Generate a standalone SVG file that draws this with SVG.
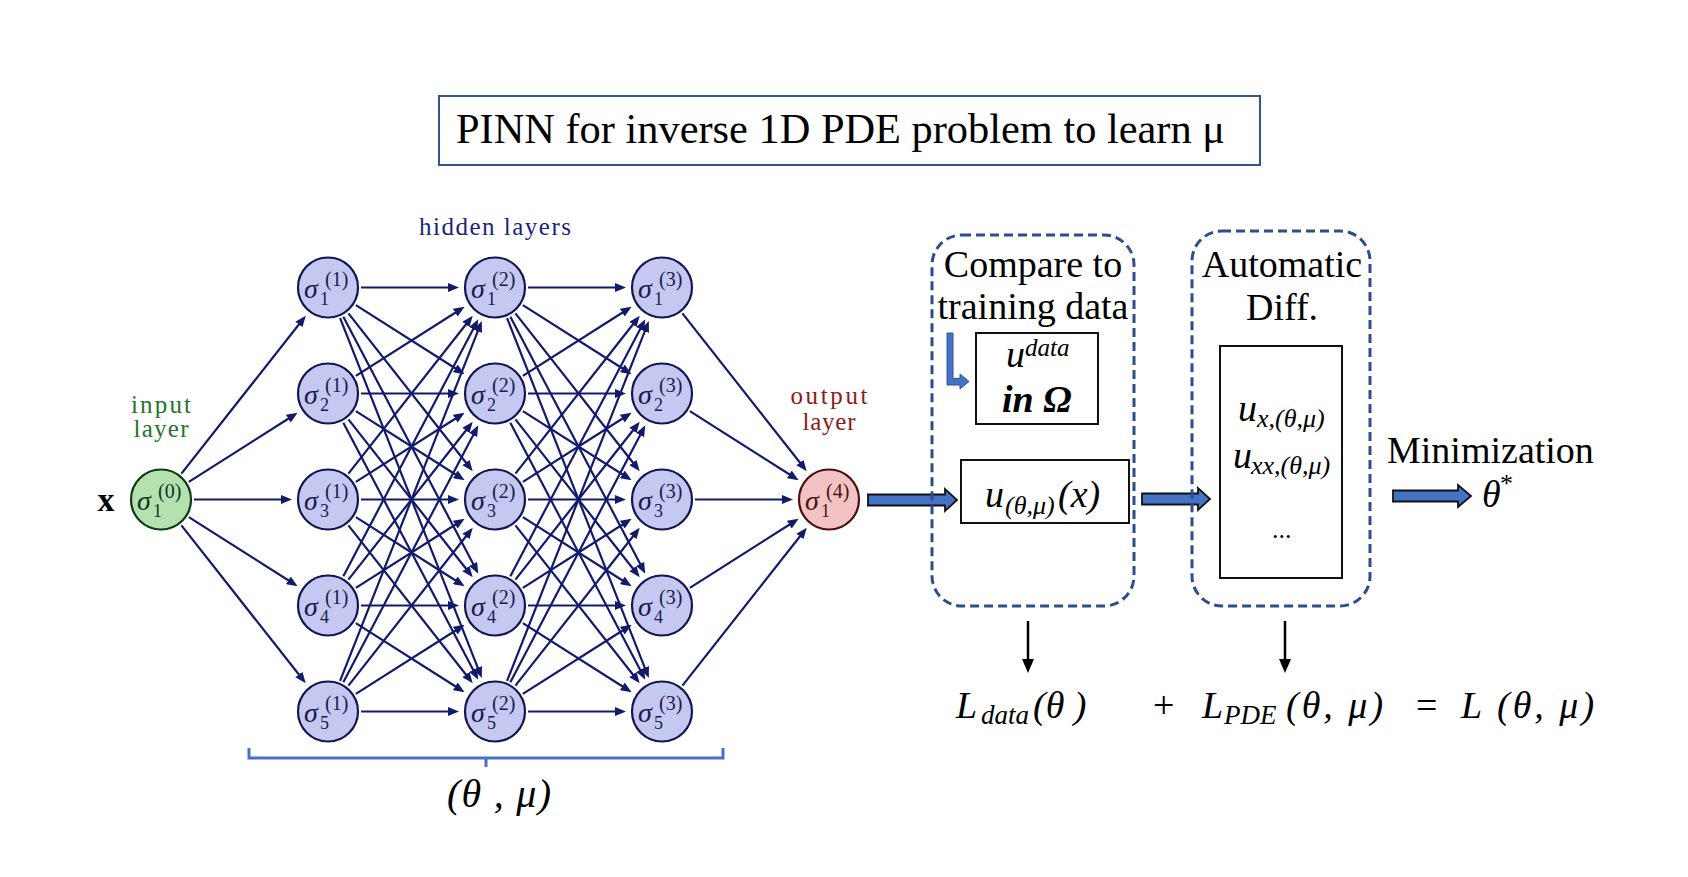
<svg xmlns="http://www.w3.org/2000/svg" width="1688" height="877" viewBox="0 0 1688 877">
<style>
.e{stroke:#111a6b;stroke-width:2.2;fill:none;marker-end:url(#ah)}
.nh circle{fill:#c5c8f1;stroke:#121552;stroke-width:2.2}
.ni circle{fill:#b5e1b1;stroke:#0f3a10;stroke-width:2.2}
.no circle{fill:#f3c3c3;stroke:#4a0f0f;stroke-width:2.2}
.sg{font-family:"Liberation Serif",serif;font-style:italic;font-size:28px}
.sb{font-style:normal;font-size:18px}
.sp{font-style:normal;font-size:20px}
.nh text{fill:#1a1a4e}.ni text{fill:#10381a}.no text{fill:#4a1212}
.lab{font-family:"Liberation Serif",serif;font-size:25px}
.t38{font-family:"Liberation Serif",serif;font-size:38px;fill:#000}
.it{font-family:"Liberation Serif",serif;font-style:italic;fill:#000}
.blk{fill:#4472c4;stroke:#111;stroke-width:1.8;stroke-linejoin:miter}
.box{fill:#fff;stroke:#111;stroke-width:2}
.dash{fill:none;stroke:#2e4d8e;stroke-width:3;stroke-dasharray:9 5}
</style>
<defs>
<marker id="ah" viewBox="0 0 11 9" refX="5" refY="4.5" markerWidth="11" markerHeight="9" markerUnits="userSpaceOnUse" orient="auto">
<path d="M0,0 L11,4.5 L0,9 z" fill="#111a6b"/>
</marker>
</defs>
<rect width="1688" height="877" fill="#fff"/>

<g id="title">
<rect x="439" y="96" width="821" height="69" fill="#fff" stroke="#2f5597" stroke-width="2"/>
<text x="456" y="143" font-family="Liberation Serif, serif" font-size="42" textLength="769" lengthAdjust="spacingAndGlyphs">PINN for inverse 1D PDE problem to learn μ</text>
</g>

<g id="connectors">
<g transform="translate(161,499.5)">
<line class="e" x1="20.42" y1="-25.92" x2="141.01" y2="-179.01"/>
<line class="e" x1="27.86" y1="-17.68" x2="131.54" y2="-83.49"/>
<line class="e" x1="33" y1="0" x2="125" y2="0"/>
<line class="e" x1="27.86" y1="17.68" x2="131.54" y2="83.49"/>
<line class="e" x1="20.42" y1="25.92" x2="141.01" y2="179.01"/>
</g>
<g transform="translate(328,287.5)">
<line class="e" x1="33" y1="0" x2="125" y2="0"/>
<line class="e" x1="27.86" y1="17.68" x2="131.54" y2="83.49"/>
<line class="e" x1="20.42" y1="25.92" x2="141.01" y2="179.01"/>
<line class="e" x1="15.34" y1="29.22" x2="147.47" y2="280.82"/>
<line class="e" x1="12.09" y1="30.70" x2="151.61" y2="384.92"/>
</g>
<g transform="translate(328,393.5)">
<line class="e" x1="27.86" y1="-17.68" x2="131.54" y2="-83.49"/>
<line class="e" x1="33" y1="0" x2="125" y2="0"/>
<line class="e" x1="27.86" y1="17.68" x2="131.54" y2="83.49"/>
<line class="e" x1="20.42" y1="25.92" x2="141.01" y2="179.01"/>
<line class="e" x1="15.34" y1="29.22" x2="147.47" y2="280.82"/>
</g>
<g transform="translate(328,499.5)">
<line class="e" x1="20.42" y1="-25.92" x2="141.01" y2="-179.01"/>
<line class="e" x1="27.86" y1="-17.68" x2="131.54" y2="-83.49"/>
<line class="e" x1="33" y1="0" x2="125" y2="0"/>
<line class="e" x1="27.86" y1="17.68" x2="131.54" y2="83.49"/>
<line class="e" x1="20.42" y1="25.92" x2="141.01" y2="179.01"/>
</g>
<g transform="translate(328,605.5)">
<line class="e" x1="15.34" y1="-29.22" x2="147.47" y2="-280.82"/>
<line class="e" x1="20.42" y1="-25.92" x2="141.01" y2="-179.01"/>
<line class="e" x1="27.86" y1="-17.68" x2="131.54" y2="-83.49"/>
<line class="e" x1="33" y1="0" x2="125" y2="0"/>
<line class="e" x1="27.86" y1="17.68" x2="131.54" y2="83.49"/>
</g>
<g transform="translate(328,711.5)">
<line class="e" x1="12.09" y1="-30.70" x2="151.61" y2="-384.92"/>
<line class="e" x1="15.34" y1="-29.22" x2="147.47" y2="-280.82"/>
<line class="e" x1="20.42" y1="-25.92" x2="141.01" y2="-179.01"/>
<line class="e" x1="27.86" y1="-17.68" x2="131.54" y2="-83.49"/>
<line class="e" x1="33" y1="0" x2="125" y2="0"/>
</g>
<g transform="translate(495,287.5)">
<line class="e" x1="33" y1="0" x2="125" y2="0"/>
<line class="e" x1="27.86" y1="17.68" x2="131.54" y2="83.49"/>
<line class="e" x1="20.42" y1="25.92" x2="141.01" y2="179.01"/>
<line class="e" x1="15.34" y1="29.22" x2="147.47" y2="280.82"/>
<line class="e" x1="12.09" y1="30.70" x2="151.61" y2="384.92"/>
</g>
<g transform="translate(495,393.5)">
<line class="e" x1="27.86" y1="-17.68" x2="131.54" y2="-83.49"/>
<line class="e" x1="33" y1="0" x2="125" y2="0"/>
<line class="e" x1="27.86" y1="17.68" x2="131.54" y2="83.49"/>
<line class="e" x1="20.42" y1="25.92" x2="141.01" y2="179.01"/>
<line class="e" x1="15.34" y1="29.22" x2="147.47" y2="280.82"/>
</g>
<g transform="translate(495,499.5)">
<line class="e" x1="20.42" y1="-25.92" x2="141.01" y2="-179.01"/>
<line class="e" x1="27.86" y1="-17.68" x2="131.54" y2="-83.49"/>
<line class="e" x1="33" y1="0" x2="125" y2="0"/>
<line class="e" x1="27.86" y1="17.68" x2="131.54" y2="83.49"/>
<line class="e" x1="20.42" y1="25.92" x2="141.01" y2="179.01"/>
</g>
<g transform="translate(495,605.5)">
<line class="e" x1="15.34" y1="-29.22" x2="147.47" y2="-280.82"/>
<line class="e" x1="20.42" y1="-25.92" x2="141.01" y2="-179.01"/>
<line class="e" x1="27.86" y1="-17.68" x2="131.54" y2="-83.49"/>
<line class="e" x1="33" y1="0" x2="125" y2="0"/>
<line class="e" x1="27.86" y1="17.68" x2="131.54" y2="83.49"/>
</g>
<g transform="translate(495,711.5)">
<line class="e" x1="12.09" y1="-30.70" x2="151.61" y2="-384.92"/>
<line class="e" x1="15.34" y1="-29.22" x2="147.47" y2="-280.82"/>
<line class="e" x1="20.42" y1="-25.92" x2="141.01" y2="-179.01"/>
<line class="e" x1="27.86" y1="-17.68" x2="131.54" y2="-83.49"/>
<line class="e" x1="33" y1="0" x2="125" y2="0"/>
</g>
<g transform="translate(662,287.5)"><line class="e" x1="20.42" y1="25.92" x2="141.01" y2="179.01"/></g>
<g transform="translate(662,393.5)"><line class="e" x1="27.86" y1="17.68" x2="131.54" y2="83.49"/></g>
<g transform="translate(662,499.5)"><line class="e" x1="33" y1="0" x2="125" y2="0"/></g>
<g transform="translate(662,605.5)"><line class="e" x1="27.86" y1="-17.68" x2="131.54" y2="-83.49"/></g>
<g transform="translate(662,711.5)"><line class="e" x1="20.42" y1="-25.92" x2="141.01" y2="-179.01"/></g>

<path class="blk" d="M868,494.5 L945,494.5 L945,489 L957,500 L945,511 L945,505.5 L868,505.5 Z"/>
<path class="blk" d="M1142,493.5 L1198,493.5 L1198,488 L1210,499 L1198,510 L1198,504.5 L1142,504.5 Z"/>
<path class="blk" d="M1393,490.5 L1458,490.5 L1458,485 L1471,496 L1458,507 L1458,501.5 L1393,501.5 Z"/>
<path d="M947,333 L953,333 L953,378.5 L960,378.5 L960,374 L969,381.5 L960,389 L960,385 L947,385 Z" fill="#4472c4" stroke="#2f5597" stroke-width="1"/>
<line x1="1028" y1="621" x2="1028" y2="661" stroke="#000" stroke-width="2.5"/>
<polygon points="1022,659 1034,659 1028,673" fill="#000"/>
<line x1="1285" y1="621" x2="1285" y2="661" stroke="#000" stroke-width="2.5"/>
<polygon points="1279,659 1291,659 1285,673" fill="#000"/>
</g>

<g id="n0" class="ni"><circle cx="161" cy="499.5" r="30"/><text class="sg" x="137" y="509.5">σ<tspan class="sb" x="153" y="516.5">1</tspan><tspan class="sp" x="158" y="497.5">(0)</tspan></text></g>

<g id="n11" class="nh"><circle cx="328" cy="287.5" r="30"/><text class="sg" x="304" y="297.5">σ<tspan class="sb" x="320" y="304.5">1</tspan><tspan class="sp" x="325" y="285.5">(1)</tspan></text></g>
<g id="n12" class="nh"><circle cx="328" cy="393.5" r="30"/><text class="sg" x="304" y="403.5">σ<tspan class="sb" x="320" y="410.5">2</tspan><tspan class="sp" x="325" y="391.5">(1)</tspan></text></g>
<g id="n13" class="nh"><circle cx="328" cy="499.5" r="30"/><text class="sg" x="304" y="509.5">σ<tspan class="sb" x="320" y="516.5">3</tspan><tspan class="sp" x="325" y="497.5">(1)</tspan></text></g>
<g id="n14" class="nh"><circle cx="328" cy="605.5" r="30"/><text class="sg" x="304" y="615.5">σ<tspan class="sb" x="320" y="622.5">4</tspan><tspan class="sp" x="325" y="603.5">(1)</tspan></text></g>
<g id="n15" class="nh"><circle cx="328" cy="711.5" r="30"/><text class="sg" x="304" y="721.5">σ<tspan class="sb" x="320" y="728.5">5</tspan><tspan class="sp" x="325" y="709.5">(1)</tspan></text></g>

<g id="n21" class="nh"><circle cx="495" cy="287.5" r="30"/><text class="sg" x="471" y="297.5">σ<tspan class="sb" x="487" y="304.5">1</tspan><tspan class="sp" x="492" y="285.5">(2)</tspan></text></g>
<g id="n22" class="nh"><circle cx="495" cy="393.5" r="30"/><text class="sg" x="471" y="403.5">σ<tspan class="sb" x="487" y="410.5">2</tspan><tspan class="sp" x="492" y="391.5">(2)</tspan></text></g>
<g id="n23" class="nh"><circle cx="495" cy="499.5" r="30"/><text class="sg" x="471" y="509.5">σ<tspan class="sb" x="487" y="516.5">3</tspan><tspan class="sp" x="492" y="497.5">(2)</tspan></text></g>
<g id="n24" class="nh"><circle cx="495" cy="605.5" r="30"/><text class="sg" x="471" y="615.5">σ<tspan class="sb" x="487" y="622.5">4</tspan><tspan class="sp" x="492" y="603.5">(2)</tspan></text></g>
<g id="n25" class="nh"><circle cx="495" cy="711.5" r="30"/><text class="sg" x="471" y="721.5">σ<tspan class="sb" x="487" y="728.5">5</tspan><tspan class="sp" x="492" y="709.5">(2)</tspan></text></g>

<g id="n31" class="nh"><circle cx="662" cy="287.5" r="30"/><text class="sg" x="638" y="297.5">σ<tspan class="sb" x="654" y="304.5">1</tspan><tspan class="sp" x="659" y="285.5">(3)</tspan></text></g>
<g id="n32" class="nh"><circle cx="662" cy="393.5" r="30"/><text class="sg" x="638" y="403.5">σ<tspan class="sb" x="654" y="410.5">2</tspan><tspan class="sp" x="659" y="391.5">(3)</tspan></text></g>
<g id="n33" class="nh"><circle cx="662" cy="499.5" r="30"/><text class="sg" x="638" y="509.5">σ<tspan class="sb" x="654" y="516.5">3</tspan><tspan class="sp" x="659" y="497.5">(3)</tspan></text></g>
<g id="n34" class="nh"><circle cx="662" cy="605.5" r="30"/><text class="sg" x="638" y="615.5">σ<tspan class="sb" x="654" y="622.5">4</tspan><tspan class="sp" x="659" y="603.5">(3)</tspan></text></g>
<g id="n35" class="nh"><circle cx="662" cy="711.5" r="30"/><text class="sg" x="638" y="721.5">σ<tspan class="sb" x="654" y="728.5">5</tspan><tspan class="sp" x="659" y="709.5">(3)</tspan></text></g>

<g id="n4" class="no"><circle cx="829" cy="499.5" r="30"/><text class="sg" x="805" y="509.5">σ<tspan class="sb" x="821" y="516.5">1</tspan><tspan class="sp" x="826" y="497.5">(4)</tspan></text></g>

<g id="labels">
<text x="106" y="511" text-anchor="middle" font-family="Liberation Serif, serif" font-weight="bold" font-size="34">x</text>
<text class="lab" x="419" y="235" fill="#1b1f7c" textLength="152" lengthAdjust="spacing">hidden layers</text>
<text class="lab" x="161" y="413" text-anchor="middle" fill="#23742a" textLength="60" lengthAdjust="spacing">input</text>
<text class="lab" x="161" y="437" text-anchor="middle" fill="#23742a" textLength="55" lengthAdjust="spacing">layer</text>
<text class="lab" x="829" y="404" text-anchor="middle" fill="#8e1a1a" textLength="77" lengthAdjust="spacing">output</text>
<text class="lab" x="829" y="430" text-anchor="middle" fill="#8e1a1a" textLength="53" lengthAdjust="spacing">layer</text>
</g>

<g id="bracket">
<path d="M249,748 L249,758 L723,758 L723,748 M486,758 L486,767" fill="none" stroke="#4472c4" stroke-width="3"/>
<text class="it" x="447" y="807" font-size="40" textLength="104" lengthAdjust="spacing">(θ , μ)</text>
</g>

<g id="compare">
<rect class="dash" x="932" y="235" width="202" height="371" rx="30"/>
<text class="t38" x="1033" y="277" text-anchor="middle">Compare to</text>
<text class="t38" x="1033" y="319" text-anchor="middle">training data</text>
</g>
<g id="udata">
<rect class="box" x="976" y="333" width="122" height="91"/>
<text class="it" x="1006" y="367" font-size="38">u<tspan x="1025" y="356" font-size="25">data</tspan></text>
<text class="it" x="1002" y="412" font-size="38" font-weight="bold">in Ω</text>
</g>
<g id="uout">
<rect class="box" x="961" y="460" width="168" height="63"/>
<text class="it" x="985" y="507" font-size="38">u<tspan x="1005" y="514" font-size="26">(θ,μ)</tspan><tspan x="1058" y="507">(x)</tspan></text>
</g>
<g id="autodiff">
<rect class="dash" x="1192" y="231" width="178" height="375" rx="30"/>
<text class="t38" x="1282" y="277" text-anchor="middle">Automatic</text>
<text class="t38" x="1282" y="320" text-anchor="middle">Diff.</text>
</g>
<g id="derivs">
<rect class="box" x="1220" y="346" width="122" height="232"/>
<text class="it" x="1238" y="421" font-size="38">u<tspan x="1257" y="427" font-size="26">x,(θ,μ)</tspan></text>
<text class="it" x="1233" y="468" font-size="38">u<tspan x="1251" y="474" font-size="26">xx,(θ,μ)</tspan></text>
<text x="1272" y="538" font-family="Liberation Serif, serif" font-size="26">...</text>
</g>
<g id="minim">
<text class="t38" x="1387" y="463">Minimization</text>
<text class="it" x="1482" y="507" font-size="38">θ<tspan x="1500" y="492" font-style="normal" font-size="26">*</tspan></text>
</g>
<g id="loss">
<text class="it" x="956" y="718" font-size="38">L<tspan x="981" y="724" font-size="27">data</tspan><tspan x="1033" y="718">(θ )</tspan></text>
<text x="1153" y="718" font-family="Liberation Serif, serif" font-size="38">+</text>
<text class="it" x="1202" y="718" font-size="38">L<tspan x="1224" y="724" font-size="27">PDE</tspan><tspan x="1286" y="718" letter-spacing="3">(θ, μ)</tspan></text>
<text x="1416" y="718" font-family="Liberation Serif, serif" font-size="38">=</text>
<text class="it" x="1461" y="718" font-size="38">L<tspan x="1497" y="718" letter-spacing="3">(θ, μ)</tspan></text>
</g>
</svg>
